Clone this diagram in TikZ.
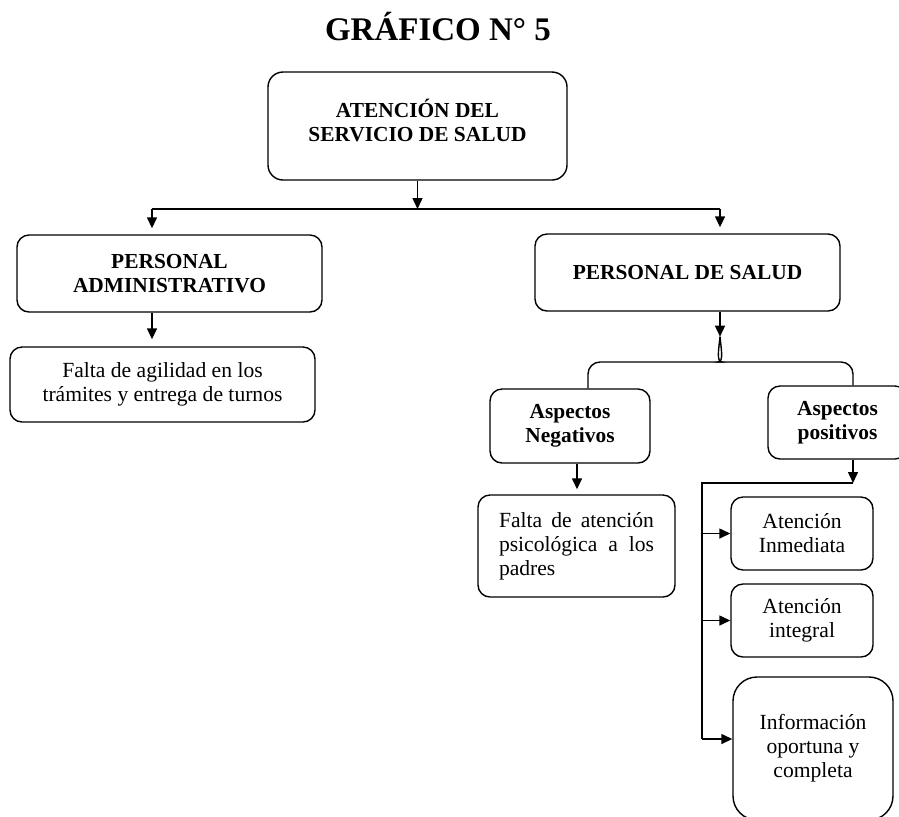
\documentclass[tikz,border=0pt]{standalone}
\usepackage{fontspec}
\setmainfont{Liberation Serif}
\usetikzlibrary{arrows.meta}
\begin{document}
\begin{tikzpicture}[x=0.5pt,y=-0.5pt,line width=0.7pt,
        caja/.style={draw,rounded corners=6pt,align=center,inner sep=0pt,
            font=\fontsize{10.8}{12}\selectfont},
        cajab/.style={caja,font=\fontsize{10.7}{12}\selectfont\bfseries},
        flecha/.style={-{Triangle[width=5pt,length=5.5pt]}}]
            \path[use as bounding box](0,0)rectangle(899,816);
            \clip(0,0)rectangle(899,816);
            \node[font=\fontsize{16.5}{18}\selectfont\bfseries,anchor=base](titulo)at(438,40){GRÁFICO N° 5};
            \node[cajab,minimum width=149.5pt,minimum height=54pt,rounded corners=7.5pt](servicio)at(417.5,126)
                {ATENCIÓN DEL\\SERVICIO DE SALUD\\[-6pt]\mbox{}};
            \node[cajab,minimum width=152.5pt,minimum height=38.5pt](admin)at(169.5,273.5){PERSONAL\\ADMINISTRATIVO};
            \node[caja,minimum width=152.5pt,minimum height=37.5pt](agilidad)at(162.5,384.5)
                {Falta de agilidad en los\\trámites y entrega de turnos};
            \node[cajab,minimum width=152.5pt,minimum height=38.5pt](salud)at(687.5,272.5){PERSONAL DE SALUD};
            \node[cajab,minimum width=80pt,minimum height=37pt](negativos)at(570,426){Aspectos\\Negativos};
            \node[cajab,minimum width=69.5pt,minimum height=36.5pt](positivos)at(837.5,422.5){Aspectos\\positivos};
            \node[caja,align=justify,text width=77.5pt,minimum width=98.5pt,minimum height=51pt,
                execute at begin node={\hyphenpenalty=10000 }](psicologica)at(576.5,546)
                {Falta de atención psicológica a los padres};
            \node[caja,minimum width=71pt,minimum height=36.5pt](inmediata)at(802,533.5){Atención\\Inmediata};
            \node[caja,minimum width=71pt,minimum height=36.5pt](integral)at(802,620.5){Atención\\integral};
            \node[caja,minimum width=80pt,minimum height=71.5pt,rounded corners=12pt](informacion)at(813,748.5)
                {Información\\oportuna y\\completa};
            \coordinate(cruce)at(417.5,209);
            \coordinate(izq)at(152,209);
            \coordinate(der)at(720,209);
            \draw[flecha](servicio.south)--(cruce);
            \draw(izq)--(der);
            \draw[flecha,shorten >=3pt](izq)--(izq|-admin.north);
            \draw[flecha,shorten >=3pt](der)--(der|-salud.north);
            \draw[flecha,shorten >=3.5pt](izq|-admin.south)--(izq|-agilidad.north);
            \draw[flecha](der|-salud.south)--++(0,25)coordinate(punta);
            \coordinate(bi)at(588,362);
            \coordinate(bd)at(853,362);
            \draw[rounded corners=6pt](bi|-negativos.north)--(bi)--(710,362)
                ..controls(716,362)and(719,348)..(punta);
            \draw[rounded corners=6pt](bd|-positivos.north)--(bd)--(730,362)
                ..controls(724,362)and(721,348)..(punta);
            \coordinate(nx)at(577,0);
            \draw[flecha,shorten >=2.5pt](nx|-negativos.south)--(nx|-psicologica.north);
            \coordinate(ramal)at(853,483);
            \coordinate(esq)at(702,483);
            \draw[flecha](ramal|-positivos.south)--(ramal);
            \draw(ramal)--(esq)--(702,739);
            \draw[flecha](esq|-inmediata.west)--(inmediata.west);
            \draw[flecha](esq|-integral.west)--(integral.west);
            \draw[flecha](esq|-0,739)--(informacion.west|-0,739);
        \end{tikzpicture}
\end{document}
